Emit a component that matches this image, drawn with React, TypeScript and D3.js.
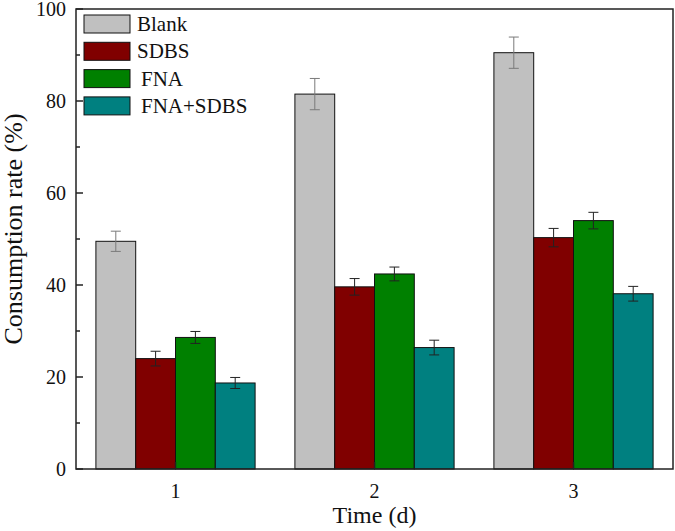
import * as d3 from "d3";

const days = [1, 2, 3];
const seriesNames = ["Blank", "SDBS", "FNA", "FNA+SDBS"];
const seriesColors = ["#c0c0c0", "#800000", "#008000", "#008080"];
const blank = [49.5, 81.5, 90.5];
const blankErr = [2.2, 3.4, 3.4];
const sdbs = [24.0, 39.6, 50.3];
const sdbsErr = [1.6, 1.8, 2.0];
const fna = [28.6, 42.4, 54.0];
const fnaErr = [1.3, 1.5, 1.8];
const fnaSdbs = [18.7, 26.4, 38.1];
const fnaSdbsErr = [1.2, 1.6, 1.6];
const yTicks = [0, 20, 40, 60, 80, 100];
const yMinor = [10, 30, 50, 70, 90];

const values = [blank, sdbs, fna, fnaSdbs];
const errors = [blankErr, sdbsErr, fnaErr, fnaSdbsErr];

const W = 675;
const H = 531;
const m = { left: 76, right: 2, top: 9, bottom: 62 };
const font = '"Liberation Serif", "DejaVu Serif", serif';

export default function App() {
  const x = d3.scaleLinear().domain([0.5, 3.5]).range([m.left, W - m.right]);
  const y = d3.scaleLinear().domain([0, 100]).range([H - m.bottom, m.top]);
  const barW = x(1.2) - x(1);
  const txt = { fontFamily: font, fill: "#111" };

  return (
    <svg
      width={W}
      height={H}
      style={{ position: "absolute", left: 0, top: 0, background: "#fff" }}
    >
      {values.map((vals, s) =>
        vals.map((v, i) => {
          const x0 = x(days[i]) + (s - 2) * barW;
          const cx = x0 + barW / 2;
          const e = errors[s][i];
          const errColor = s === 0 ? "#7a7a7a" : "#222";
          return (
            <g key={`${s}-${i}`}>
              <rect
                x={x0}
                y={y(v)}
                width={barW}
                height={y(0) - y(v)}
                fill={seriesColors[s]}
                stroke="#111"
                strokeWidth={1}
              />
              <g stroke={errColor} strokeWidth={1}>
                <line x1={cx} x2={cx} y1={y(v + e)} y2={y(v - e)} />
                <line x1={cx - 5} x2={cx + 5} y1={y(v + e)} y2={y(v + e)} />
                <line x1={cx - 5} x2={cx + 5} y1={y(v - e)} y2={y(v - e)} />
              </g>
            </g>
          );
        })
      )}

      {/* frame */}
      <rect
        x={m.left}
        y={m.top}
        width={W - m.right - m.left}
        height={H - m.bottom - m.top}
        fill="none"
        stroke="#222"
        strokeWidth={1.5}
      />

      {/* y axis ticks */}
      {yTicks.map((t) => (
        <g key={t}>
          <line x1={m.left} x2={m.left + 7} y1={y(t)} y2={y(t)} stroke="#222" strokeWidth={1.5} />
          <text x={m.left - 10} y={y(t) + 6.5} textAnchor="end" fontSize={20} style={txt}>
            {t}
          </text>
        </g>
      ))}
      {yMinor.map((t) => (
        <line key={t} x1={m.left} x2={m.left + 4} y1={y(t)} y2={y(t)} stroke="#222" strokeWidth={1.5} />
      ))}

      {/* x axis ticks */}
      {days.map((d) => (
        <g key={d}>
          <line x1={x(d)} x2={x(d)} y1={y(0)} y2={y(0) - 7} stroke="#222" strokeWidth={1.5} />
          <text x={x(d)} y={498} textAnchor="middle" fontSize={20} style={txt}>
            {d}
          </text>
        </g>
      ))}

      <text x={(m.left + W - m.right) / 2} y={523} textAnchor="middle" fontSize={24} style={txt}>
        Time (d)
      </text>
      <text
        transform={`translate(22,${(m.top + H - m.bottom) / 2 - 10}) rotate(-90)`}
        textAnchor="middle"
        fontSize={26}
        style={txt}
      >
        Consumption rate (%)
      </text>

      {/* legend */}
      {seriesNames.map((name, s) => {
        const ly = 15 + s * 27.3;
        return (
          <g key={name}>
            <rect x={84} y={ly} width={46} height={18} fill={seriesColors[s]} stroke="#111" strokeWidth={1} />
            <text x={s < 2 ? 137 : 141} y={ly + 16} fontSize={21} style={txt}>
              {name}
            </text>
          </g>
        );
      })}
    </svg>
  );
}
